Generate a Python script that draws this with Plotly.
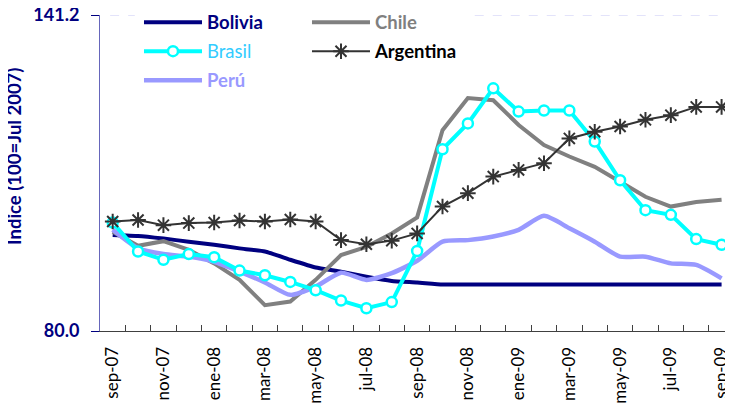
import plotly.graph_objects as go

months = ["sep-07", "oct-07", "nov-07", "dic-07", "ene-08", "feb-08", "mar-08", "abr-08",
          "may-08", "jun-08", "jul-08", "ago-08", "sep-08", "oct-08", "nov-08", "dic-08",
          "ene-09", "feb-09", "mar-09", "abr-09", "may-09", "jun-09", "jul-09", "ago-09", "sep-09"]

bolivia = [98.6, 98.4, 97.9, 97.3, 96.7, 96.0, 95.4, 93.8, 92.3, 91.5, 90.5, 89.7, 89.4,
           89.0, 89.0, 89.0, 89.0, 89.0, 89.0, 89.0, 89.0, 89.0, 89.0, 89.0, 89.0]
chile = [99.2, 96.5, 97.4, 95.7, 93.1, 89.9, 85.0, 85.7, 89.9, 94.7, 96.3, 98.9, 102.0,
         118.9, 125.1, 124.7, 119.9, 116.0, 113.8, 111.8, 108.9, 106.0, 104.1, 105.0, 105.4]
brasil = [101.0, 95.4, 93.8, 94.9, 94.3, 91.7, 90.8, 89.5, 87.9, 85.9, 84.4, 85.6, 95.5,
          115.2, 120.2, 127.0, 122.5, 122.7, 122.7, 116.7, 109.2, 103.4, 102.5, 97.8, 96.7]
argentina = [101.2, 101.5, 100.5, 100.9, 101.0, 101.4, 101.2, 101.6, 101.2, 97.6, 96.8, 97.5, 98.9,
             104.1, 106.7, 109.9, 111.2, 112.5, 117.3, 118.6, 119.6, 120.9, 121.8, 123.4, 123.4]
peru = [99.6, 96.0, 94.9, 94.4, 93.4, 91.5, 89.4, 87.0, 88.6, 91.3, 89.9, 91.2, 93.6,
        97.3, 97.6, 98.3, 99.6, 102.3, 99.9, 97.3, 94.4, 94.4, 93.1, 92.8, 90.2]

y_ticks = [80.0, 141.2]
y_ticktext = ["80.0", "141.2"]

FONT = "Lato"
fig = go.Figure()


def lname(text, color, bold=True):
    t = f"<b>{text}</b>" if bold else text
    return f'<span style="color:{color}">{t}</span>'


fig.add_trace(go.Scatter(
    x=months, y=bolivia, mode="lines", name=lname("Bolivia", "#000080"),
    line=dict(color="#000080", width=4, shape="spline", smoothing=0.4),
    legend="legend", legendgroup="bo", legendrank=1))
fig.add_trace(go.Scatter(
    x=months, y=chile, mode="lines", name=lname("Chile", "#808080"),
    line=dict(color="#808080", width=4),
    legend="legend2", legendgroup="ch", legendrank=1))
fig.add_trace(go.Scatter(
    x=months, y=peru, mode="lines", name=lname("Perú", "#9999FF"),
    line=dict(color="#9999FF", width=4.5, shape="spline", smoothing=0.6),
    legend="legend", legendgroup="pe", legendrank=3))
fig.add_trace(go.Scatter(
    x=months, y=brasil, mode="lines+markers", name=lname("Brasil", "#33CCFF", bold=False),
    line=dict(color="#00FFFF", width=4),
    marker=dict(symbol="circle", size=10, color="white", line=dict(color="#00FFFF", width=2.5)),
    legend="legend", legendgroup="br", legendrank=2))
fig.add_trace(go.Scatter(
    x=months, y=argentina, mode="lines+markers", name=lname("Argentina", "#000000"),
    line=dict(color="#333333", width=2),
    marker=dict(symbol="asterisk-open", size=13, color="#333333", line=dict(color="#333333", width=2)),
    legend="legend2", legendgroup="ar", legendrank=2))

fig.update_layout(
    width=725, height=403,
    margin=dict(l=92, r=0, t=7, b=80, autoexpand=False),
    paper_bgcolor="white", plot_bgcolor="white",
    font=dict(family=FONT, size=17, color="black"),
    showlegend=True,
    legend=dict(x=0.0616, y=1.036, xanchor="left", yanchor="top", bgcolor="rgba(0,0,0,0)",
                itemwidth=58, tracegroupgap=2, font=dict(family=FONT, size=18.5),
                itemclick=False),
    legend2=dict(x=0.327, y=1.036, xanchor="left", yanchor="top", bgcolor="rgba(0,0,0,0)",
                 itemwidth=58, tracegroupgap=2, font=dict(family=FONT, size=18.5),
                 itemclick=False),
    xaxis=dict(
        type="category", range=[-0.5, 24.45], tickson="boundaries",
        ticks="inside", ticklen=6, tickcolor="#404040", ticklabelstep=2,
        tickangle=-90, tickfont=dict(family=FONT, size=17, color="black"),
        showline=True, linecolor="#404040", linewidth=1, showgrid=False,
        ticklabelstandoff=8, zeroline=False),
    yaxis=dict(
        range=[80, 141.2], tickvals=y_ticks, ticktext=y_ticktext,
        ticks="outside", ticklen=8, tickcolor="#000080",
        tickfont=dict(family=FONT, size=18, color="#000080", weight="bold"),
        ticklabeloverflow="allow",
        showline=True, linecolor="#6666BB", linewidth=1,
        showgrid=False, zeroline=False, ticklabelstandoff=8),
)

# dashed gridline at the top tick value (hidden behind the legend block, as in the original)
for gx0, gx1 in [(0.016, 0.055), (0.592, 1.0)]:
    fig.add_shape(type="line", xref="paper", yref="y", x0=gx0, x1=gx1,
                  y0=y_ticks[1], y1=y_ticks[1],
                  line=dict(color="#C8C8F5", width=1, dash="dash"), layer="below")

fig.add_annotation(
    text="<b>Indice (100=Jul 2007)</b>", textangle=-90,
    xref="paper", yref="paper", x=0, y=0.551, xanchor="center", yanchor="middle",
    xshift=-86, showarrow=False, font=dict(family=FONT, size=18.5, color="#000080"))

fig.write_html("out.html")
